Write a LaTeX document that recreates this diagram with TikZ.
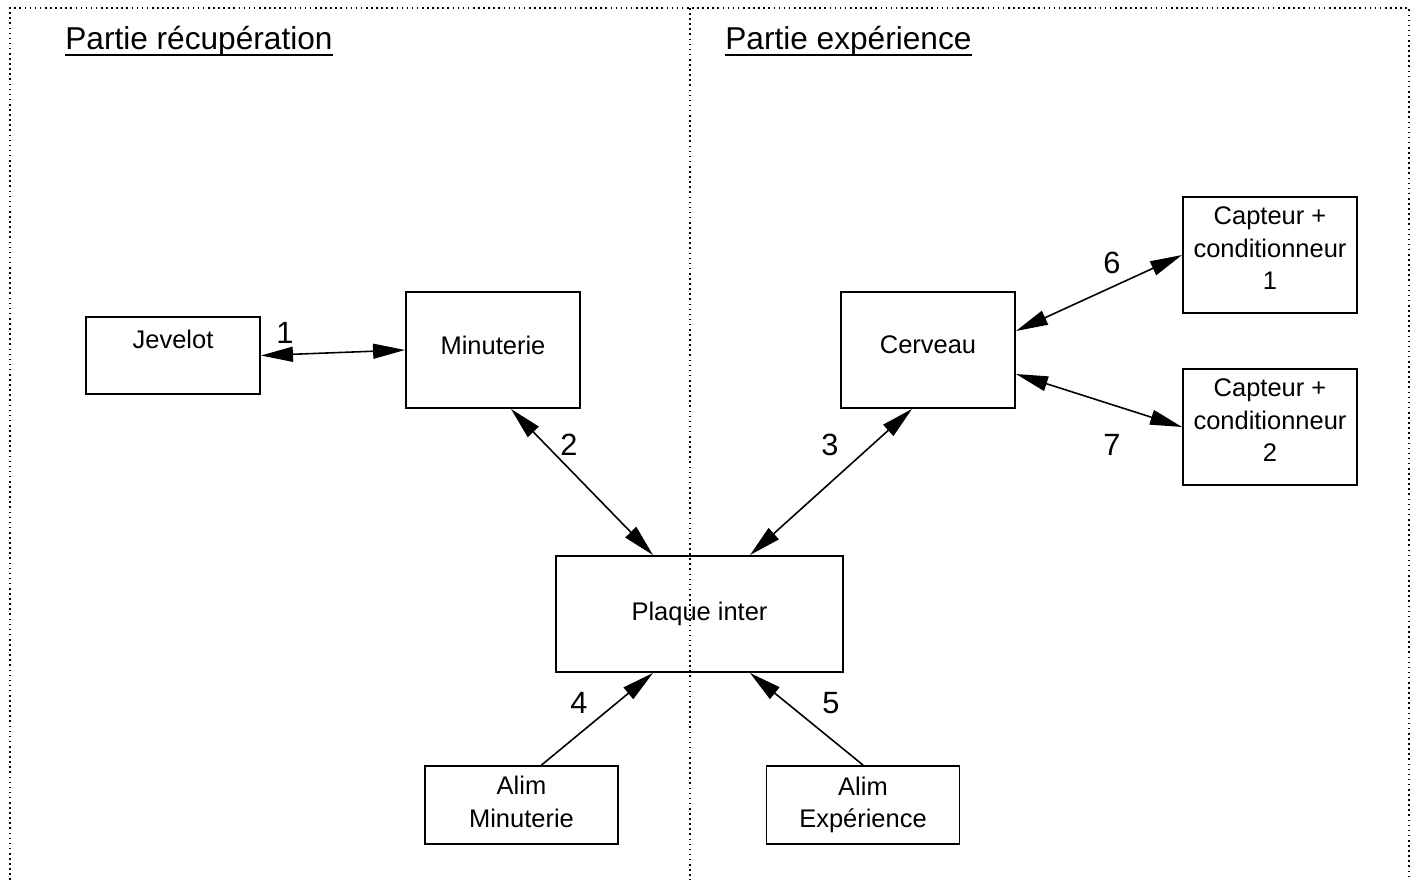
\documentclass[tikz,border=0pt]{standalone}
\usepackage{fontspec}
\setmainfont{Liberation Sans}
\usetikzlibrary{arrows.meta}

\newcommand{\boxfont}{\fontsize{14.5}{18.5}\selectfont}
\newcommand{\numfont}{\fontsize{17.5}{20}\selectfont}
\newcommand{\headfont}{\fontsize{18}{21}\selectfont}

\begin{document}
\begin{tikzpicture}[x=0.02cm, y=-0.02cm,
  >={Triangle[length=0.64cm, width=0.3cm]},
  box/.style={draw, line width=1.1pt, align=center, inner sep=0pt,
    minimum width=3.48cm, minimum height=2.32cm, font=\boxfont},
  num/.style={font=\numfont, inner sep=0pt},
  head/.style={font=\headfont, anchor=base west, inner sep=0pt},
  frame/.style={dotted, line width=0.9pt},
  link/.style={line width=0.9pt, <->},
  feed/.style={line width=0.9pt, ->}]
\useasboundingbox (0,0) rectangle (1420,880);
\draw[frame] (10,880) -- (10,8) -- (1409,8) -- (1409,880);
\draw[frame] (690,8) -- (690,880);

\node[head] (hrecup) at (65,49) {Partie récupération};
\node[head] (hexp) at (725,49) {Partie expérience};
\draw[line width=1.7pt] ([yshift=-0.12cm]hrecup.base west) -- ([yshift=-0.12cm]hrecup.base east);
\draw[line width=1.7pt] ([yshift=-0.12cm]hexp.base west) -- ([yshift=-0.12cm]hexp.base east);

\node[box, minimum height=1.54cm, text depth=0.66cm] (jevelot) at (173,355.5) {Jevelot};
\node[box, text depth=0.2cm] (minuterie) at (493,350) {Minuterie};
\node[box, text depth=0.2cm] (cerveau) at (928,350) {Cerveau};
\node[box, text depth=0.26cm] (capteur1) at (1270,255) {Capteur +\\conditionneur\\1};
\node[box, text depth=0.26cm] (capteur2) at (1270,427) {Capteur +\\conditionneur\\2};
\node[box, minimum width=5.74cm] (plaque) at (699.5,614) {Plaque inter};
\node[box, minimum width=3.86cm, minimum height=1.56cm, text depth=0.12cm] (alimmin) at (521.5,805) {Alim\\Minuterie};
\node[box, minimum width=3.86cm, minimum height=1.56cm] (alimexp) at (863,805) {Alim\\Expérience};

\draw[link] (jevelot.east) -- (minuterie.west);
\draw[link] ([xshift=0.36cm]minuterie.south) -- ([xshift=-0.93cm]plaque.north);
\draw[link] ([xshift=-0.32cm]cerveau.south) -- ([xshift=1.01cm]plaque.north);
\draw[feed] ([xshift=0.4cm]alimmin.north) -- ([xshift=-0.93cm]plaque.south);
\draw[feed] (alimexp.north) -- ([xshift=1.01cm]plaque.south);
\draw[link] ([yshift=0.38cm]cerveau.east) -- (capteur1.west);
\draw[link] ([yshift=-0.48cm]cerveau.east) -- (capteur2.west);

\node[num] (n1) at (285,333) {1};
\node[num] (n2) at (569,445) {2};
\node[num] (n3) at (830,445) {3};
\node[num] (n4) at (579,703) {4};
\node[num] (n5) at (831,703) {5};
\node[num] (n6) at (1112,263) {6};
\node[num] (n7) at (1112,445) {7};
\end{tikzpicture}
\end{document}
